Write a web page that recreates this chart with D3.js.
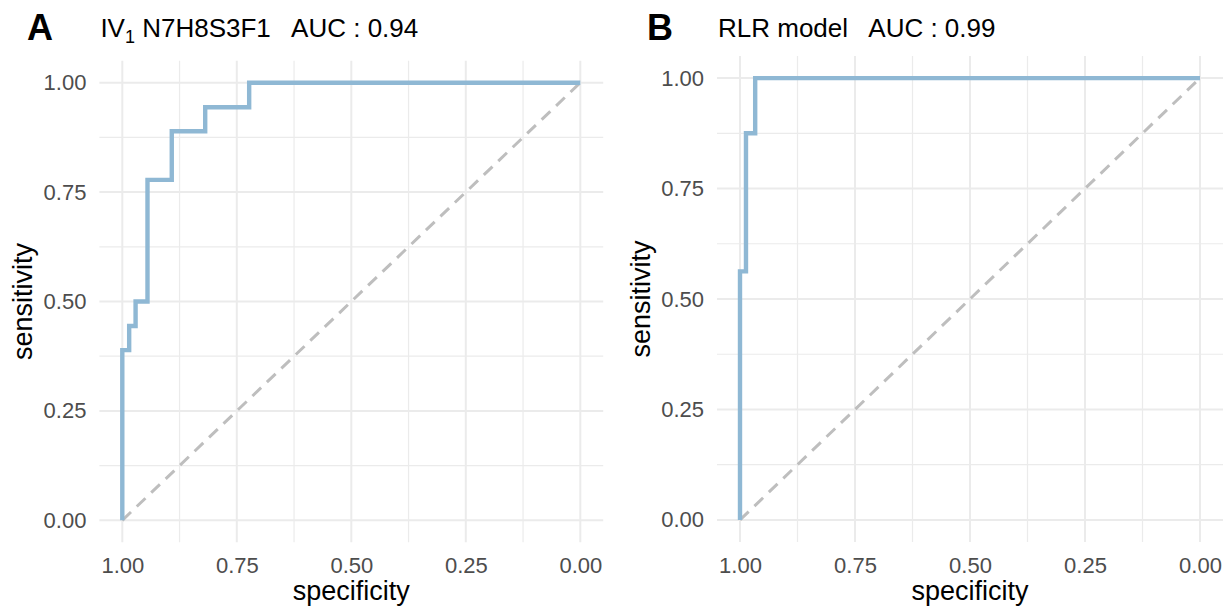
<!DOCTYPE html>
<html>
<head>
<meta charset="utf-8">
<script src="https://cdn.jsdelivr.net/npm/d3@7"></script>
<style>
  body { margin: 0; background: #fff; }
  text { font-family: "Liberation Sans", Arial, sans-serif; }
</style>
</head>
<body>
<script>
// ROC corner points (specificity, sensitivity), drawn with a step curve
const specA = [1, 0.985, 0.971, 0.945, 0.892, 0.819, 0.723, 0]
const sensA = [0, 0.389, 0.444, 0.5, 0.778, 0.889, 0.944, 1]
const specB = [1, 0.987, 0.967, 0]
const sensB = [0, 0.5625, 0.875, 1]

const tickVals = [0, 0.25, 0.5, 0.75, 1]
const minorVals = [0.125, 0.375, 0.625, 0.875]

const panels = [
  { tag: 'A', title: ['IV', '1', ' N7H8S3F1   AUC : 0.94'], spec: specA, sens: sensA,
    x0: 99.4, x1: 603.2, y0: 60.8, y1: 542.2, tagX: 27 },
  { tag: 'B', title: ['RLR model   AUC : 0.99'], spec: specB, sens: sensB,
    x0: 717, x1: 1223, y0: 56, y1: 542, tagX: 647 }
]

var w = 1225, h = 607

var svg = d3.select('body').append('svg')
  .attr('width', w)
  .attr('height', h)

svg.append('rect').attr('width', w).attr('height', h).attr('fill', '#fff')

panels.forEach(function (p) {
  // ggplot style 5% expansion on both ends
  var x = d3.scaleLinear().domain([1.05, -0.05]).range([p.x0, p.x1])
  var y = d3.scaleLinear().domain([-0.05, 1.05]).range([p.y1, p.y0])

  var g = svg.append('g')

  // minor grid
  g.selectAll('.vminor').data(minorVals).enter().append('line')
    .attr('x1', d => x(d)).attr('x2', d => x(d))
    .attr('y1', p.y0).attr('y2', p.y1)
    .attr('stroke', '#ebebeb').attr('stroke-width', 1.2)
  g.selectAll('.hminor').data(minorVals).enter().append('line')
    .attr('y1', d => y(d)).attr('y2', d => y(d))
    .attr('x1', p.x0).attr('x2', p.x1)
    .attr('stroke', '#ebebeb').attr('stroke-width', 1.2)

  // major grid
  g.selectAll('.vmajor').data(tickVals).enter().append('line')
    .attr('x1', d => x(d)).attr('x2', d => x(d))
    .attr('y1', p.y0).attr('y2', p.y1)
    .attr('stroke', '#ebebeb').attr('stroke-width', 2)
  g.selectAll('.hmajor').data(tickVals).enter().append('line')
    .attr('y1', d => y(d)).attr('y2', d => y(d))
    .attr('x1', p.x0).attr('x2', p.x1)
    .attr('stroke', '#ebebeb').attr('stroke-width', 2)

  // axes
  var xAxis = d3.axisBottom(x).tickValues(tickVals).tickSize(0).tickPadding(15)
    .tickFormat(d3.format('.2f'))
  var yAxis = d3.axisLeft(y).tickValues(tickVals).tickSize(0).tickPadding(13)
    .tickFormat(d3.format('.2f'))

  var gx = g.append('g').attr('transform', `translate(0,${p.y1})`).call(xAxis)
  var gy = g.append('g').attr('transform', `translate(${p.x0},0)`).call(yAxis)
  ;[gx, gy].forEach(function (a) {
    a.select('.domain').remove()
    a.selectAll('text')
      .attr('font-size', 22)
      .attr('fill', '#4d4d4d')
      .attr('font-family', '"Liberation Sans", Arial, sans-serif')
  })

  // chance diagonal
  g.append('line')
    .attr('x1', x(1)).attr('y1', y(0))
    .attr('x2', x(0)).attr('y2', y(1))
    .attr('stroke', '#bebebe').attr('stroke-width', 3)
    .attr('stroke-dasharray', '12,8')

  // ROC curve
  var pts = p.spec.map((s, i) => [s, p.sens[i]])
  var line = d3.line()
    .x(d => x(d[0]))
    .y(d => y(d[1]))
    .curve(d3.curveStepBefore)
  g.append('path')
    .attr('d', line(pts))
    .attr('fill', 'none')
    .attr('stroke', '#8fb8d4')
    .attr('stroke-width', 4.4)
    .attr('stroke-linejoin', 'miter')

  // axis titles
  g.append('text')
    .attr('x', (p.x0 + p.x1) / 2).attr('y', 600)
    .attr('text-anchor', 'middle')
    .attr('font-size', 27)
    .text('specificity')
  g.append('text')
    .attr('transform', `translate(${p.x0 - 67},${(p.y0 + p.y1) / 2}) rotate(-90)`)
    .attr('text-anchor', 'middle')
    .attr('font-size', 27)
    .text('sensitivity')

  // tag + title
  g.append('text')
    .attr('x', p.tagX).attr('y', 40)
    .attr('font-size', 36).attr('font-weight', 'bold')
    .text(p.tag)

  var t = g.append('text')
    .attr('x', p.x0 + 1).attr('y', 37)
    .attr('font-size', 26)
    .style('white-space', 'pre')
  if (p.title.length === 3) {
    t.append('tspan').text(p.title[0])
    t.append('tspan').attr('font-size', 18).attr('dy', 6).text(p.title[1])
    t.append('tspan').attr('dy', -6).text(p.title[2])
  } else {
    t.append('tspan').text(p.title[0])
  }
})
</script>
</body>
</html>
